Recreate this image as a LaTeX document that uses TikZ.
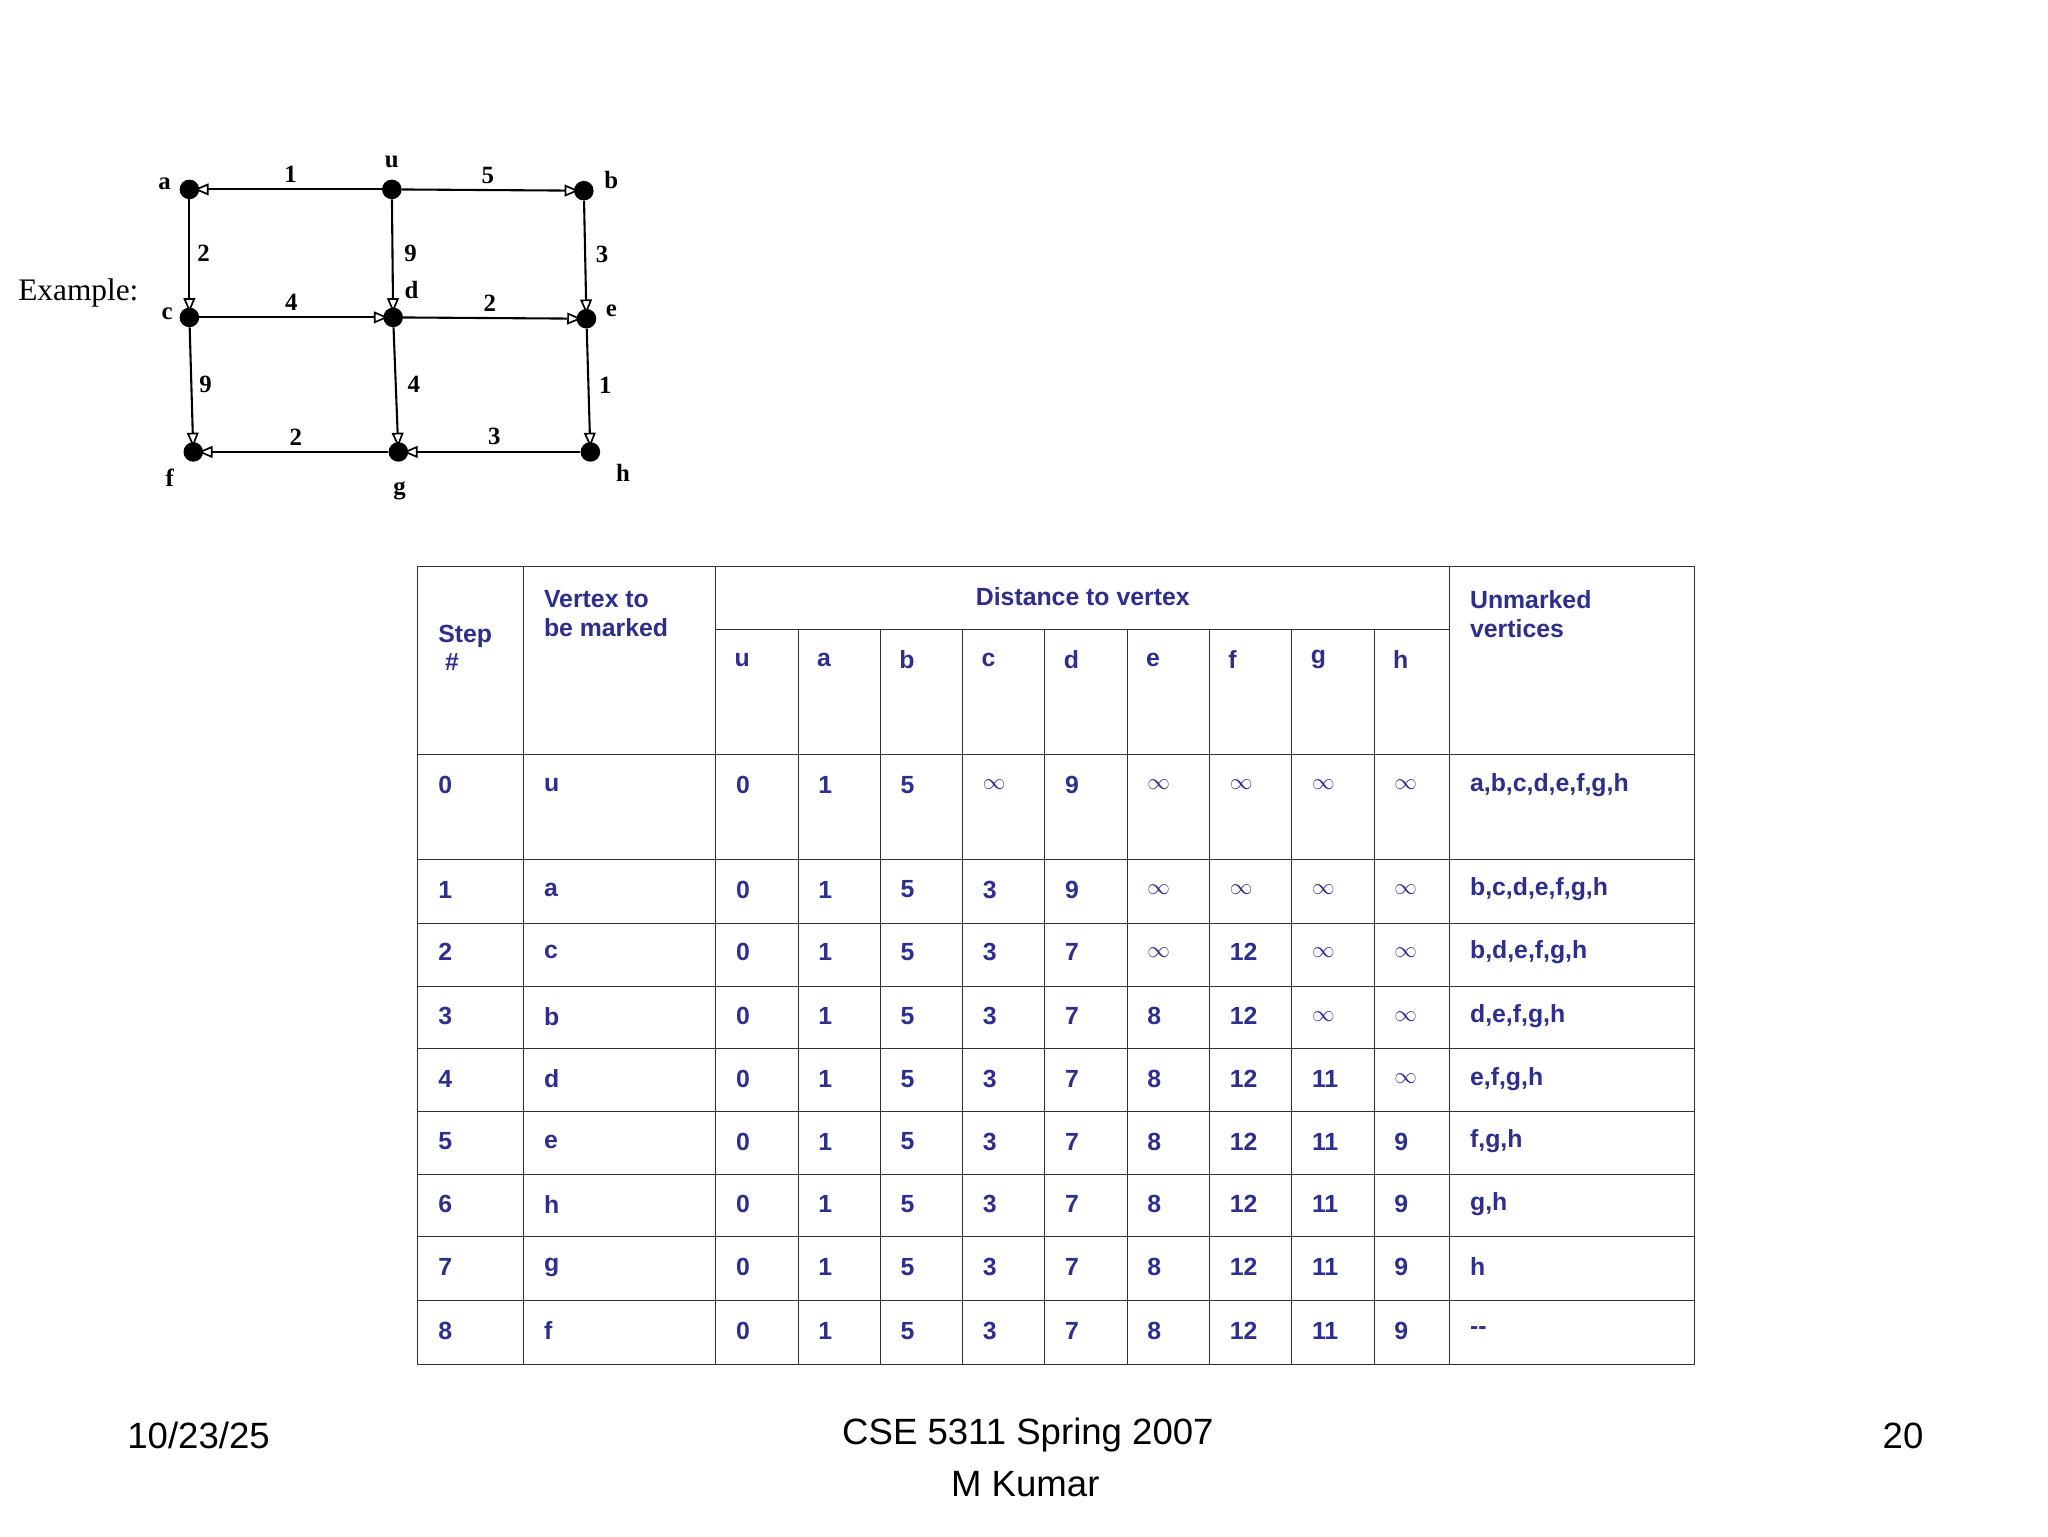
\documentclass[tikz,border=0pt]{standalone}
\usepackage{fontspec}
\setmainfont{Liberation Serif}
\newfontfamily\ar{Liberation Sans}
\usetikzlibrary{arrows.meta}
\definecolor{tb}{RGB}{46,46,140}
\begin{document}
\begin{tikzpicture}[x=1pt,y=-1pt,
  vx/.style={circle,fill=black,inner sep=0pt,minimum size=15pt},
  ed/.style={draw,line width=1.6pt,-{Triangle[open,fill=white,length=11pt,width=9pt,line width=1.3pt]},shorten >=-4pt},
  el/.style={font=\fontsize{19}{19}\selectfont\bfseries},
  vl/.style={font=\fontsize{19}{19}\selectfont\bfseries},
  tt/.style={font=\ar\fontsize{19}{22}\selectfont\bfseries,text=tb,anchor=west,align=left},
  gl/.style={draw=black!80,line width=0.8pt}]
\useasboundingbox (0,0) rectangle (1568,1176);
\fill[white] (0,0) rectangle (1568,1176);
% graph
\node[vx] (a) at (145,145) {};
\node[vx] (u) at (300,145) {};
\node[vx] (b) at (447,146) {};
\node[vx] (c) at (145,243) {};
\node[vx] (d) at (301,243) {};
\node[vx] (e) at (449,244) {};
\node[vx] (f) at (148,346) {};
\node[vx] (g) at (305,346) {};
\node[vx] (h) at (452,346) {};
\node[vl] (la) at (126,141) {a};
\node[vl] (lu) at (300,124) {u};
\node[vl] (lb) at (468,138) {b};
\node[vl] (lc) at (128,240) {c};
\node[vl] (ld) at (315,222) {d};
\node[vl] (le) at (468,238) {e};
\node[vl] (lf) at (130,366) {f};
\node[vl] (lg) at (306,376) {g};
\node[vl] (lh) at (477,362) {h};
\node[font=\fontsize{24}{24}\selectfont] (ex) at (60,224) {Example:};
\draw[ed] (u) -- node[el,above=1pt] (w1) {1} (a);
\draw[ed] (u) -- node[el,above=1pt] (w5) {5} (b);
\draw[ed] (a) -- node[el,right=2pt] (w2) {2} (c);
\draw[ed] (u) -- node[el,right=5pt] (w9) {9} (d);
\draw[ed] (b) -- node[el,right=4pt] (w3) {3} (e);
\draw[ed] (c) -- node[el,above=1pt] (w4) {4} (d);
\draw[ed] (d) -- node[el,above=1pt] (w2b) {2} (e);
\draw[ed] (c) -- node[el,right=2pt] (w9b) {9} (f);
\draw[ed] (d) -- node[el,right=5pt] (w4b) {4} (g);
\draw[ed] (e) -- node[el,right=4pt] (w1b) {1} (h);
\draw[ed] (g) -- node[el,above=1pt] (w2c) {2} (f);
\draw[ed] (h) -- node[el,above=1pt] (w3b) {3} (g);
% table grid
\draw[gl] (320,434) rectangle (1297,1045);
\foreach \x in {401,548,1110} \draw[gl] (\x,434) -- (\x,1045);
\foreach \x in {611,674,737,800,863,926,989,1052} \draw[gl] (\x,482) -- (\x,1045);
\draw[gl] (548,482) -- (1110,482);
\foreach \y in {578,658,707,755,803,851,899,947,996} \draw[gl] (320,\y) -- (1297,\y);
% headers
\node[tt] (h1) at (332,496) {Step\\\ \#};
\node[tt] (h2) at (413,470) {Vertex to\\be marked};
\node[tt,anchor=center] (h3) at (829,457) {Distance to vertex};
\node[tt] (h4) at (1122,470) {Unmarked\\vertices};
\foreach \v [count=\i from 0] in {u,a,b,c,d,e,f,g,h}
  \node[tt] (hv\i) at (559+63*\i,505) {\v};
% data
\def\infs{$\infty$}
\foreach \y/\s/\m/\da/\db/\dc/\dd/\de/\df/\dg/\dh/\un [count=\r] in {
 601/0/u/1/5/\infs/9/\infs/\infs/\infs/\infs/{a,b,c,d,e,f,g,h},
 681/1/a/1/5/3/9/\infs/\infs/\infs/\infs/{b,c,d,e,f,g,h},
 729/2/c/1/5/3/7/\infs/12/\infs/\infs/{b,d,e,f,g,h},
 778/3/b/1/5/3/7/8/12/\infs/\infs/{d,e,f,g,h},
 826/4/d/1/5/3/7/8/12/11/\infs/{e,f,g,h},
 874/5/e/1/5/3/7/8/12/11/9/{f,g,h},
 922/6/h/1/5/3/7/8/12/11/9/{g,h},
 970/7/g/1/5/3/7/8/12/11/9/h,
 1019/8/f/1/5/3/7/8/12/11/9/{-{}-}} {
  \node[tt] (s\r) at (332,\y) {\s};
  \node[tt] (m\r) at (413,\y) {\m};
  \node[tt] (c0\r) at (560,\y) {0};
  \node[tt] (c1\r) at (623,\y) {\da};
  \node[tt] (c2\r) at (686,\y) {\db};
  \node[tt] (c3\r) at (749,\y) {\dc};
  \node[tt] (c4\r) at (812,\y) {\dd};
  \node[tt] (c5\r) at (875,\y) {\de};
  \node[tt] (c6\r) at (938,\y) {\df};
  \node[tt] (c7\r) at (1001,\y) {\dg};
  \node[tt] (c8\r) at (1064,\y) {\dh};
  \node[tt] (un\r) at (1122,\y) {\un};
}
% footer
\node[font=\ar\fontsize{28}{28}\selectfont,anchor=west] (date) at (94,1099) {10/23/25};
\node[font=\ar\fontsize{28}{28}\selectfont] (crs) at (787,1099) {CSE 5311 Spring 2007};
\node[font=\ar\fontsize{28}{28}\selectfont] (auth) at (785,1136) {M Kumar};
\node[font=\ar\fontsize{28}{28}\selectfont] (pg) at (1457,1099) {20};
\end{tikzpicture}
\end{document}
